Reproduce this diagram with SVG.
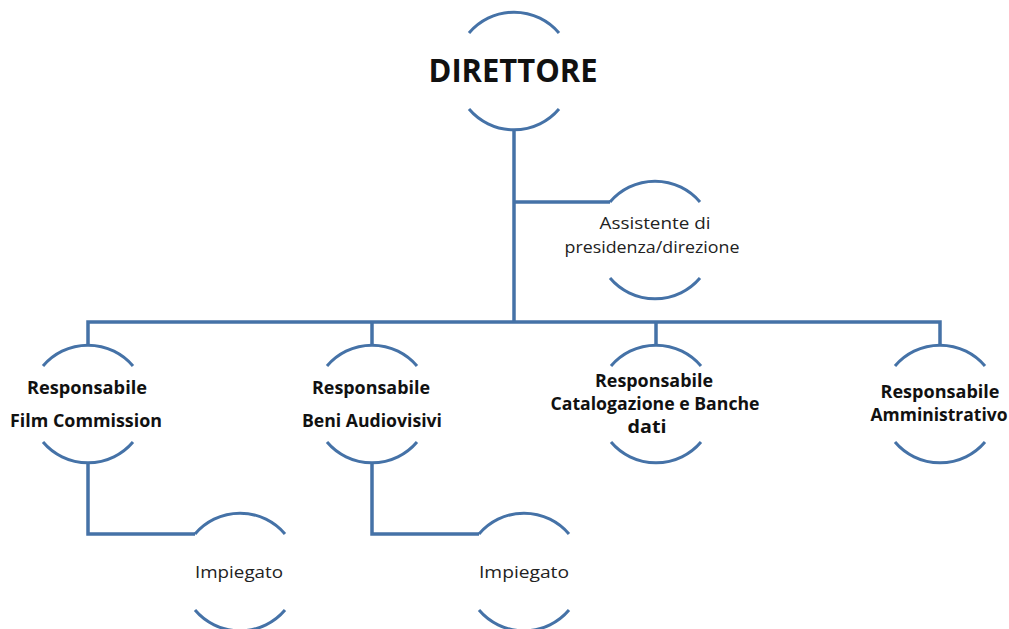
<svg xmlns="http://www.w3.org/2000/svg" width="1009" height="629" viewBox="0 0 1009 629">
<style>
.arc{fill:none;stroke:#4572A7;stroke-width:3}
.con{fill:none;stroke:#4572A7;stroke-width:3.5}
.b{font-family:"Open Sans","Liberation Sans",sans-serif;font-weight:bold;fill:#111;text-anchor:middle}
.r{font-family:"Open Sans","Liberation Sans",sans-serif;fill:#222;text-anchor:middle}
</style>
<defs>
<g id="circ">
<path class="arc" d="M -45 -38 A 59 59 0 0 1 45 -38"/>
<path class="arc" d="M -45 38 A 59 59 0 0 0 45 38"/>
</g>
</defs>
<rect width="1009" height="629" fill="#fff"/>
<g id="connectors">
<path class="con" d="M514 130 V322"/>
<path class="con" d="M514 202 H610"/>
<path class="con" d="M88 345 V322 H940 V345"/>
<path class="con" d="M372 322 V345"/>
<path class="con" d="M656 322 V345"/>
<path class="con" d="M88 463 V534 H195"/>
<path class="con" d="M372 463 V534 H479"/>
</g>
<g id="direttore">
<use href="#circ" x="514" y="71"/>
<text class="b" x="513" y="82" font-size="32" textLength="169" lengthAdjust="spacingAndGlyphs">DIRETTORE</text>
</g>
<g id="assistente">
<use href="#circ" x="655" y="240"/>
<text class="r" x="655" y="229" font-size="17" textLength="111" lengthAdjust="spacingAndGlyphs">Assistente di</text>
<text class="r" x="652" y="253" font-size="17" textLength="175" lengthAdjust="spacingAndGlyphs">presidenza/direzione</text>
</g>
<g id="film">
<use href="#circ" x="88" y="404"/>
<text class="b" x="87" y="394" font-size="17" textLength="120" lengthAdjust="spacingAndGlyphs">Responsabile</text>
<text class="b" x="86" y="427" font-size="17" textLength="152" lengthAdjust="spacingAndGlyphs">Film Commission</text>
</g>
<g id="beni">
<use href="#circ" x="372" y="404"/>
<text class="b" x="371" y="394" font-size="17" textLength="118" lengthAdjust="spacingAndGlyphs">Responsabile</text>
<text class="b" x="372" y="427" font-size="17" textLength="140" lengthAdjust="spacingAndGlyphs">Beni Audiovisivi</text>
</g>
<g id="catalogazione">
<use href="#circ" x="656" y="404"/>
<text class="b" x="654" y="387" font-size="17" textLength="118" lengthAdjust="spacingAndGlyphs">Responsabile</text>
<text class="b" x="655" y="410" font-size="17" textLength="209" lengthAdjust="spacingAndGlyphs">Catalogazione e Banche</text>
<text class="b" x="647" y="433" font-size="17" textLength="39" lengthAdjust="spacingAndGlyphs">dati</text>
</g>
<g id="amministrativo">
<use href="#circ" x="940" y="404"/>
<text class="b" x="940" y="398" font-size="17" textLength="119" lengthAdjust="spacingAndGlyphs">Responsabile</text>
<text class="b" x="939" y="421" font-size="17" textLength="137" lengthAdjust="spacingAndGlyphs">Amministrativo</text>
</g>
<g id="impiegato1">
<use href="#circ" x="240" y="572"/>
<text class="r" x="239" y="578" font-size="17" textLength="88" lengthAdjust="spacingAndGlyphs">Impiegato</text>
</g>
<g id="impiegato2">
<use href="#circ" x="524" y="572"/>
<text class="r" x="524" y="578" font-size="17" textLength="90" lengthAdjust="spacingAndGlyphs">Impiegato</text>
</g>
</svg>
